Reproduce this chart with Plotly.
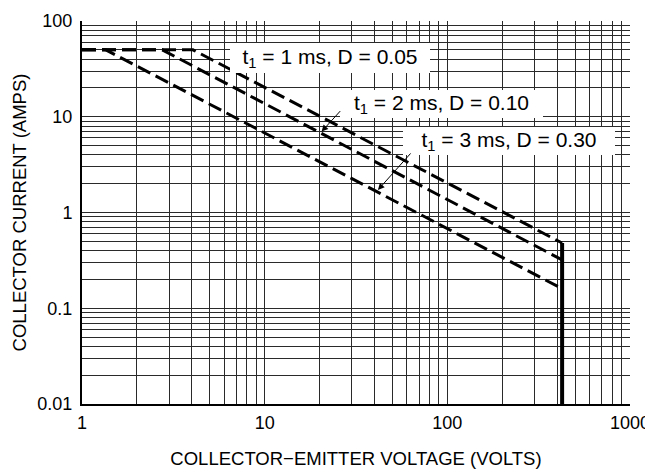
import math
import plotly.graph_objects as go

# ---- data ----
v_1ms = [1, 4.05, 425]
i_1ms = [50, 50, 0.48]
v_2ms = [1, 2.75, 425]
i_2ms = [50, 50, 0.32]
v_3ms = [1, 1.35, 425]
i_3ms = [50, 50, 0.16]
v_limit = [425, 425]
i_limit = [0.48, 0.01]

x_ticks = [1, 10, 100, 1000]
x_ticktext = ["1", "10", "100", "1000"]
y_ticks = [0.01, 0.1, 1, 10, 100]
y_ticktext = ["0.01", "0.1", "1", "10", "100"]

labels = ["t<sub>1</sub> = 1 ms, D = 0.05",
          "t<sub>1</sub> = 2 ms, D = 0.10",
          "t<sub>1</sub> = 3 ms, D = 0.30"]

FONT = "Liberation Sans, Arial, sans-serif"
GRID = "#2a2a2a"

fig = go.Figure()
dash_line = dict(color="black", width=3, dash="14px,6px")
for v, i in [(v_1ms, i_1ms), (v_2ms, i_2ms), (v_3ms, i_3ms)]:
    fig.add_trace(go.Scatter(x=v, y=i, mode="lines", line=dash_line,
                             showlegend=False, hoverinfo="skip"))
fig.add_trace(go.Scatter(x=v_limit, y=i_limit, mode="lines",
                         line=dict(color="black", width=4),
                         showlegend=False, hoverinfo="skip"))

x_minor = [m * 10 ** e for e in range(0, 3) for m in range(2, 10)]
y_minor = [m * 10.0 ** e for e in range(-2, 2) for m in range(2, 10)]

fig.update_xaxes(type="log", range=[0, 3], tickmode="array", automargin=False,
                 tickvals=x_ticks, ticktext=x_ticktext, ticks="", ticklen=0,
                 showgrid=True, gridcolor=GRID, gridwidth=1,
                 minor=dict(tickvals=x_minor, showgrid=True,
                            gridcolor=GRID, gridwidth=1, ticks=""),
                 showline=True, linecolor="black", linewidth=2,
                 zeroline=False, ticklabelstandoff=1,
                 ticklabeloverflow="allow",
                 tickfont=dict(family=FONT, size=18, color="black"),
                 title=dict(text="COLLECTOR\u2212EMITTER VOLTAGE (VOLTS)",
                            font=dict(family=FONT, size=18.5, color="black"),
                            standoff=20))
fig.update_yaxes(type="log", range=[-2, 2], tickmode="array", automargin=False,
                 tickvals=y_ticks, ticktext=y_ticktext, ticks="", ticklen=0,
                 showgrid=True, gridcolor=GRID, gridwidth=1,
                 minor=dict(tickvals=y_minor, showgrid=True,
                            gridcolor=GRID, gridwidth=1, ticks=""),
                 showline=True, linecolor="black", linewidth=2,
                 zeroline=False, ticklabelstandoff=4,
                 ticklabeloverflow="allow",
                 tickfont=dict(family=FONT, size=18, color="black"),
                 title=dict(text="COLLECTOR CURRENT (AMPS)",
                            font=dict(family=FONT, size=18.5, color="black"),
                            standoff=6))

# text boxes (paper coordinates)
boxes = [(0.4526, 0.9034, 200, 30),
         (0.6560, 0.7833, 203, 28),
         (0.7792, 0.6868, 212, 28)]
for txt, (bx, by, w, h) in zip(labels, boxes):
    fig.add_annotation(text=txt, xref="paper", yref="paper", x=bx, y=by,
                       xanchor="center", yanchor="middle", showarrow=False,
                       bgcolor="white", borderpad=0, borderwidth=0,
                       width=w, height=h,
                       font=dict(family=FONT, size=21, color="black"))

# arrows pointing at curves (log10 data coordinates)
arrows = [(20.5, 7.0, 20, -22), (41.7, 1.72, 34, -38)]
for ax_v, ay_v, dx, dy in arrows:
    fig.add_annotation(text="", x=math.log10(ax_v), y=math.log10(ay_v),
                       xref="x", yref="y", ax=dx, ay=dy, showarrow=True,
                       arrowhead=2, arrowsize=1.3, arrowwidth=1,
                       arrowcolor="black")

# the page body adds an 8px margin, so the figure is 8px smaller
fig.update_layout(width=645, height=468, autosize=False,
                  margin=dict(l=74, r=23, t=13, b=72),
                  plot_bgcolor="white", paper_bgcolor="white",
                  font=dict(family=FONT, color="black"))

fig.write_html("out.html")
